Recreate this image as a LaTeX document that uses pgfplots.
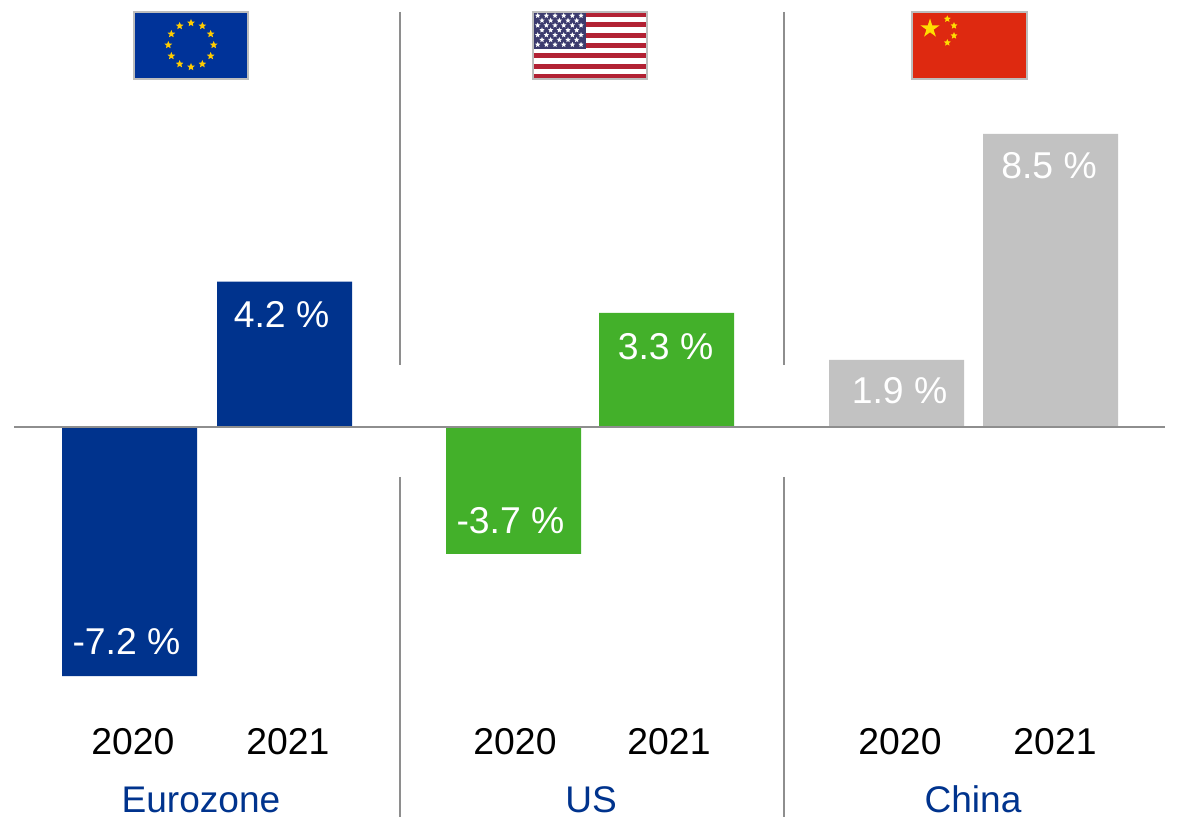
\documentclass[border=0pt]{standalone}
\usepackage{pgfplots}
\pgfplotsset{compat=1.18}
\usepackage{fontspec}
\setmainfont{Liberation Sans}
\usetikzlibrary{shapes.geometric}
\definecolor{eub}{HTML}{00338D}
\definecolor{usg}{HTML}{43B02A}
\definecolor{cng}{HTML}{C2C2C2}
\definecolor{lineg}{HTML}{8E8E8E}
\definecolor{flagb}{HTML}{BDBDBD}
\definecolor{euflag}{HTML}{003399}
\definecolor{gold}{HTML}{FFCC00}
\definecolor{usred}{HTML}{B22234}
\definecolor{usblue}{HTML}{3C3B6E}
\definecolor{cnred}{HTML}{DE2910}
\definecolor{cnyel}{HTML}{FFDE00}
\begin{document}
\begin{tikzpicture}
\path[use as bounding box] (0,0) rectangle (883.5pt,616.5pt);
\begin{axis}[
  at={(0,0)},anchor=south west,
  scale only axis,width=883.5pt,height=616.5pt,
  xmin=0,xmax=1178,ymin=-11.416,ymax=12.341,
  ybar,bar width=101.25pt,
  axis line style={draw=none},
  tick style={draw=none},
  ytick=\empty,
  xtick={133,288,515,669,900,1055},
  xticklabels={2020,2021,2020,2021,2020,2021},
  xticklabel style={font=\fontsize{28}{30}\selectfont,anchor=base,yshift=54.75pt,text=black},
  clip=false,
]
\addplot[bar shift=0pt,fill=eub,draw=none] coordinates {(129.5,-7.2) (284.5,4.2)};
\addplot[bar shift=0pt,fill=usg,draw=none] coordinates {(513.5,-3.67) (666.5,3.3)};
\addplot[bar shift=0pt,fill=cng,draw=none] coordinates {(896.5,1.94) (1050.5,8.47)};
\end{axis}
\begin{scope}[x=0.75pt,y=-0.75pt,yshift=616.5pt]
  \draw[lineg,line width=1.5pt] (14,427) -- (1165,427);
  \foreach \x in {400,784}{
    \draw[lineg,line width=1.5pt] (\x,12) -- (\x,365);
    \draw[lineg,line width=1.5pt] (\x,477) -- (\x,817);
  }
  \tikzset{lab/.style={font=\fontsize{28}{30}\selectfont,anchor=base,inner sep=0pt,text=white}}
  \node[lab] at (126.5,654) {-7.2 \%};
  \node[lab] at (281.5,328) {4.2 \%};
  \node[lab] at (510.5,534) {-3.7 \%};
  \node[lab] at (665.5,360) {3.3 \%};
  \node[lab] at (899.5,404) {1.9 \%};
  \node[lab] at (1049,179) {8.5 \%};
  \tikzset{grp/.style={font=\fontsize{27.8}{30}\selectfont,anchor=base,inner sep=0pt,text=eub}}
  \node[grp] at (201,812) {Eurozone};
  \node[grp] at (591,812) {US};
  \node[grp] at (973,812) {China};
  % EU flag
  \fill[euflag] (134,12) rectangle (248,79);
  \foreach \a in {0,30,...,330}{
    \node[star,star points=5,star point ratio=2.2,fill=gold,draw=none,inner sep=0pt,minimum size=6pt] at ({191+22.7*cos(\a)},{45+22*sin(\a)}) {};
  }
  \draw[flagb,line width=1.5pt] (134,12) rectangle (248,79);
  % US flag
  \fill[white] (533,12) rectangle (647,79);
  \foreach \i in {0,2,...,12}{
    \fill[usred] (533,{12+\i*5.154}) rectangle (647,{12+(\i+1)*5.154});
  }
  \fill[usblue] (533,12) rectangle (586,49);
  \foreach \r in {0,2,4,6}{\foreach \c in {0,...,5}{
    \node[star,star points=5,star point ratio=2.2,fill=white,draw=none,inner sep=0pt,minimum size=4.2pt] at ({537.7+\c*8.67},{15.7+\r*4.83}) {};
  }}
  \foreach \r in {1,3,5}{\foreach \c in {0,...,4}{
    \node[star,star points=5,star point ratio=2.2,fill=white,draw=none,inner sep=0pt,minimum size=4.2pt] at ({542+\c*8.67},{15.7+\r*4.83}) {};
  }}
  \draw[flagb,line width=1.5pt] (533,12) rectangle (647,79);
  % China flag
  \fill[cnred] (912,12) rectangle (1027,79);
  \node[star,star points=5,star point ratio=2.618,fill=cnyel,draw=none,inner sep=0pt,minimum size=15pt] at (930,28.5) {};
  \foreach \x/\y in {947.3/19,954/25.7,954/35.7,947.3/42.7}{
    \node[star,star points=5,star point ratio=2.2,fill=cnyel,draw=none,inner sep=0pt,minimum size=5.5pt] at (\x,\y) {};
  }
  \draw[flagb,line width=1.5pt] (912,12) rectangle (1027,79);
\end{scope}
\end{tikzpicture}
\end{document}
